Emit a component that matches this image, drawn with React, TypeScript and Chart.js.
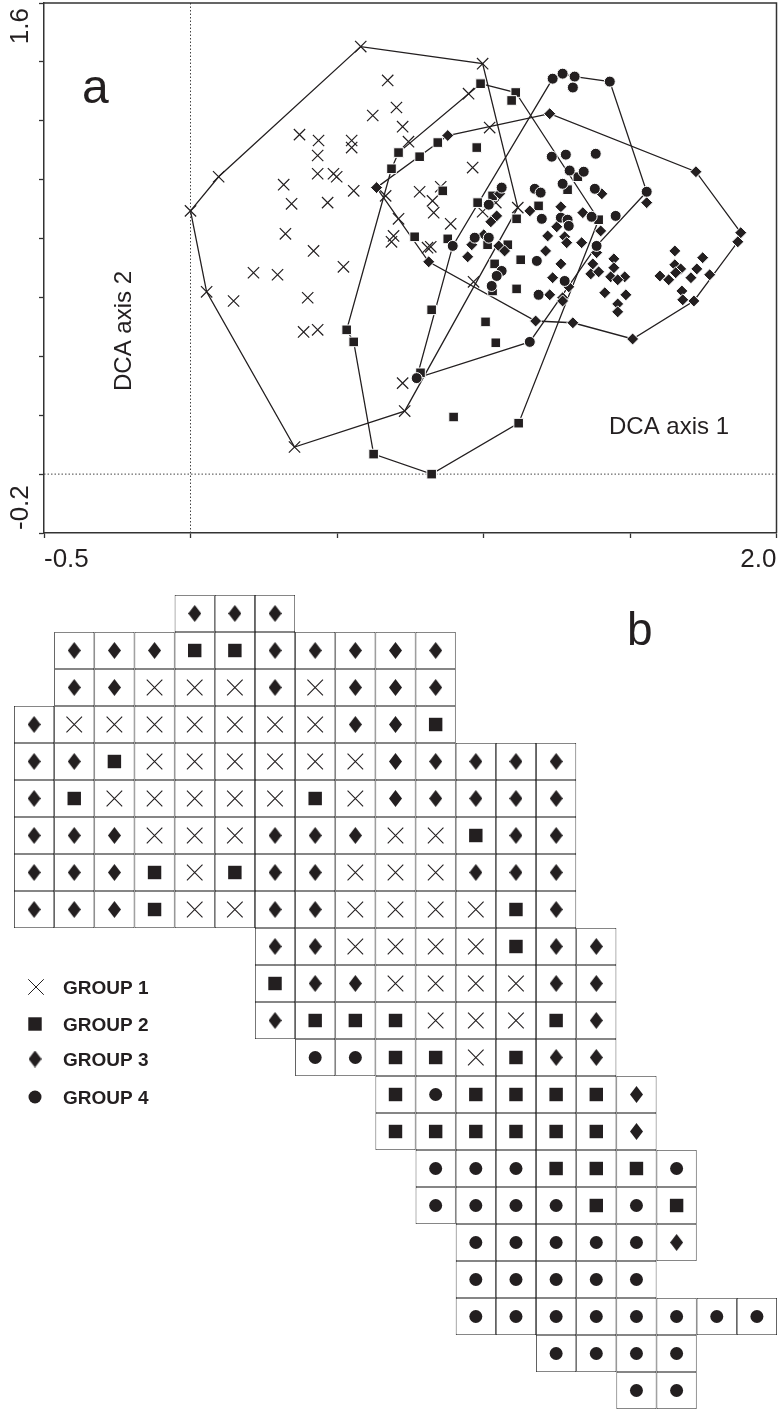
import React, { useEffect, useRef } from "react";
import { Chart, registerables } from "chart.js";
import { drawPoint } from "chart.js/helpers";

Chart.register(...registerables);

type P = [number, number];

const INK = "#231f20";
const FONT = '"Liberation Sans", Arial, sans-serif';

// Panel a: DCA ordination, hull vertices in ring order, then the interior samples
const group1Hull: P[] = [[0, 0.894], [0.096, 1.01], [0.581, 1.452], [0.997, 1.394], [1.117, 0.905], [0.731, 0.214], [0.355, 0.092], [0.055, 0.619]];
const group1Inner: P[] = [[0.673, 1.337], [0.703, 1.245], [0.622, 1.218], [0.724, 1.18], [0.744, 1.129], [0.372, 1.153], [0.437, 1.133], [0.55, 1.133], [0.55, 1.109], [0.434, 1.082], [0.434, 1.02], [0.488, 1.02], [0.499, 1.01], [0.557, 0.962], [0.318, 0.983], [0.345, 0.918], [0.468, 0.922], [0.324, 0.816], [0.666, 0.945], [0.71, 0.867], [0.693, 0.809], [0.686, 0.789], [0.782, 0.959], [0.826, 0.928], [0.83, 0.888], [0.809, 0.769], [0.854, 0.976], [0.42, 0.758], [0.522, 0.704], [0.215, 0.684], [0.297, 0.677], [0.147, 0.588], [0.4, 0.599], [0.386, 0.483], [0.434, 0.49], [0.724, 0.309], [0.949, 1.292], [1.021, 1.177], [0.963, 1.041], [0.888, 0.85], [0.997, 0.891], [0.966, 0.653], [0.82, 0.772], [1.042, 0.922]];

const group2Hull: P[] = [[0.99, 1.326], [1.11, 1.296], [1.393, 0.864], [1.12, 0.173], [0.823, 0], [0.625, 0.068], [0.557, 0.449], [0.533, 0.49], [0.686, 1.037], [0.71, 1.092]];
const group2Inner: P[] = [[1.096, 1.269], [0.844, 1.126], [0.782, 1.078], [0.977, 1.109], [0.861, 0.962], [0.98, 0.922], [1.188, 0.911], [1.113, 0.867], [0.878, 0.799], [1.127, 0.728], [1.038, 0.714], [1.031, 0.622], [1.113, 0.629], [1.014, 0.779], [1.083, 0.779], [1.031, 0.945], [1.287, 0.966], [1.322, 1.01], [0.765, 0.806], [0.898, 0.194], [1.007, 0.517], [1.042, 0.446], [0.823, 0.558], [0.785, 0.344]];

const group3Hull: P[] = [[0.635, 0.973], [0.878, 1.15], [1.226, 1.224], [1.725, 1.027], [1.878, 0.82], [1.868, 0.789], [1.718, 0.588], [1.509, 0.459], [1.305, 0.514], [1.178, 0.52], [0.813, 0.721]];
const group3Inner: P[] = [[1.055, 0.952], [1.158, 0.894], [1.264, 0.908], [1.045, 0.877], [1.025, 0.857], [1.339, 0.888], [1.219, 0.809], [1.25, 0.84], [1.277, 0.806], [1.284, 0.786], [1.335, 0.786], [1.001, 0.813], [0.96, 0.779], [0.946, 0.738], [1.052, 0.775], [1.072, 0.758], [1.212, 0.758], [1.264, 0.714], [1.236, 0.667], [1.373, 0.714], [1.366, 0.68], [1.386, 0.752], [1.226, 0.609], [1.27, 0.599], [1.291, 0.636], [1.404, 0.952], [1.557, 0.922], [1.4, 0.826], [1.445, 0.731], [1.445, 0.701], [1.393, 0.687], [1.434, 0.67], [1.482, 0.67], [1.458, 0.66], [1.414, 0.616], [1.486, 0.609], [1.458, 0.578], [1.458, 0.551], [1.27, 0.588], [1.653, 0.758], [1.653, 0.711], [1.673, 0.697], [1.656, 0.684], [1.602, 0.673], [1.632, 0.66], [1.748, 0.735], [1.728, 0.697], [1.708, 0.667], [1.772, 0.677], [1.677, 0.622], [1.68, 0.592]];

const group4Hull: P[] = [[1.236, 1.343], [0.895, 0.775], [0.772, 0.326], [1.158, 0.449], [1.386, 0.775], [1.557, 0.959], [1.431, 1.333], [1.311, 1.35], [1.27, 1.36]];
const group4Inner: P[] = [[1.305, 1.313], [1.233, 1.078], [1.281, 1.085], [1.383, 1.088], [1.294, 1.031], [1.342, 1.027], [1.27, 0.986], [1.38, 0.969], [1.062, 0.973], [1.018, 0.915], [1.175, 0.969], [1.195, 0.956], [1.199, 0.867], [1.369, 0.874], [0.97, 0.803], [1.018, 0.803], [1.182, 0.724], [1.062, 0.69], [1.045, 0.673], [1.277, 0.656], [1.188, 0.609], [1.264, 0.871], [1.287, 0.864], [1.291, 0.843], [1.451, 0.877], [1.028, 0.639]];

// Panel b: grid map, one digit per cell (the group number)
const gridRowStarts = [4, 1, 1, 0, 0, 0, 0, 0, 0, 6, 6, 6, 7, 9, 9, 10, 10, 11, 11, 11, 13, 15];
const gridRowGroups = ["333", "3332233333", "3311131333", "31111111332", "33211111133333", "32111112133333", "33311133311233", "33321233111333", "33321133111123", "331111233", "233111133", "322211123", "44221233", "2422223", "2222223", "4442224", "4444242", "444443", "44444", "44444444", "4444", "44"];

const legendLabels = ["GROUP 1", "GROUP 2", "GROUP 3", "GROUP 4"];

const toXY = (pts: P[]) => pts.map(([x, y]) => ({ x, y }));

function tallDiamond(w: number, h: number) {
  const c = document.createElement("canvas");
  c.width = w;
  c.height = h;
  const g = c.getContext("2d")!;
  g.fillStyle = INK;
  g.beginPath();
  g.moveTo(w / 2, 0);
  g.lineTo(w, h / 2);
  g.lineTo(w / 2, h);
  g.lineTo(0, h / 2);
  g.closePath();
  g.fill();
  return c;
}

function text(ctx: CanvasRenderingContext2D, s: string, x: number, y: number, font: string, align: CanvasTextAlign = "left", rot = 0) {
  ctx.save();
  ctx.translate(x, y);
  if (rot) ctx.rotate(rot);
  ctx.font = font;
  ctx.fillStyle = INK;
  ctx.textAlign = align;
  ctx.textBaseline = "alphabetic";
  ctx.fillText(s, 0, 0);
  ctx.restore();
}

function scatterConfig(): any {
  const hull = (pts: P[]) => ({
    type: "line",
    data: toXY([...pts, pts[0]]),
    borderColor: INK,
    borderWidth: 1.3,
    pointRadius: 0,
    fill: false,
    tension: 0,
    order: 10,
  });
  const marks = (label: string, pts: P[], style: string, radius: number, order: number) => ({
    label,
    data: toXY(pts),
    pointStyle: style,
    pointRadius: radius,
    pointBackgroundColor: INK,
    pointBorderColor: style === "crossRot" ? INK : "#ffffff",
    pointBorderWidth: style === "crossRot" ? 1.2 : 1,
    showLine: false,
    order,
  });
  const guide = (pts: P[]) => ({
    type: "line",
    data: toXY(pts),
    borderColor: "#444",
    borderWidth: 1,
    borderDash: [1.5, 2],
    pointRadius: 0,
    order: 11,
  });
  return {
    type: "scatter",
    data: {
      datasets: [
        guide([[0, -0.2], [0, 1.6]]),
        guide([[-0.5, 0], [2, 0]]),
        hull(group1Hull),
        hull(group2Hull),
        hull(group3Hull),
        hull(group4Hull),
        marks("GROUP 1", [...group1Hull, ...group1Inner], "crossRot", 8, 4),
        marks("GROUP 2", [...group2Hull, ...group2Inner], "rect", 6.8, 3),
        marks("GROUP 3", [...group3Hull, ...group3Inner], "rectRot", 6, 2),
        marks("GROUP 4", [...group4Hull, ...group4Inner], "circle", 5.5, 1),
      ],
    },
    options: {
      animation: false,
      responsive: false,
      devicePixelRatio: 1,
      layout: { autoPadding: false, padding: { top: 3, right: 2.5, left: 0, bottom: 0 } },
      plugins: { legend: { display: false }, tooltip: { enabled: false } },
      scales: {
        x: {
          type: "linear",
          min: -0.5,
          max: 2,
          afterFit: (s: any) => { s.height = 57; s.paddingRight = 0; s.paddingLeft = 0; },
          grid: { drawOnChartArea: false, tickLength: 5, tickColor: "#333", tickWidth: 1.3 },
          border: { color: "#333", width: 1.5 },
          ticks: {
            stepSize: 0.5,
            align: "inner",
            maxRotation: 0,
            autoSkip: false,
            padding: 6,
            color: INK,
            font: { family: FONT, size: 26 },
            callback: (v: number) => (v === -0.5 ? "-0.5" : v === 2 ? "2.0" : ""),
          },
        },
        y: {
          type: "linear",
          min: -0.2,
          max: 1.6,
          afterFit: (s: any) => { s.width = 44; },
          grid: { drawOnChartArea: false, tickLength: 5, tickColor: "#333", tickWidth: 1.3 },
          border: { color: "#333", width: 1.5 },
          ticks: { stepSize: 0.2, display: false },
        },
      },
    },
    plugins: [
      {
        id: "panelA",
        afterDraw(chart: any) {
          const { ctx, chartArea: a, scales } = chart;
          ctx.save();
          ctx.strokeStyle = "#333";
          ctx.lineWidth = 1.5;
          ctx.beginPath();
          ctx.moveTo(a.left, a.top);
          ctx.lineTo(a.right, a.top);
          ctx.lineTo(a.right, a.bottom);
          ctx.stroke();
          ctx.restore();
          const up = -Math.PI / 2;
          const tickFont = `26px ${FONT}`;
          text(ctx, "1.6", 28, scales.y.getPixelForValue(1.6) + 5, tickFont, "right", up);
          text(ctx, "-0.2", 28, scales.y.getPixelForValue(-0.2) - 3, tickFont, "left", up);
          const f = `24px ${FONT}`;
          text(ctx, "a", 82, 103, `48px ${FONT}`);
          text(ctx, "DCA axis 1", 609, 434, f);
          text(ctx, "DCA axis 2", 131, 331, f, "center", up);
        },
      },
    ],
  };
}

function gridConfig(): any {
  const diamond = tallDiamond(13, 17);
  const cells: { x: number; y: [number, number] }[] = [];
  const byGroup: Record<string, { x: number; y: number }[]> = { "1": [], "2": [], "3": [], "4": [] };
  gridRowGroups.forEach((row, r) => {
    row.split("").forEach((g, i) => {
      const c = gridRowStarts[r] + i;
      cells.push({ x: c + 0.5, y: [r, r + 1] });
      byGroup[g].push({ x: c + 0.5, y: r + 0.5 });
    });
  });
  const marks = (label: string, data: any[], style: any, radius: number, crossed = false) => ({
    label,
    data,
    pointStyle: style,
    pointRadius: radius,
    pointBackgroundColor: INK,
    pointBorderColor: INK,
    pointBorderWidth: crossed ? 1.1 : 0,
    showLine: false,
    order: 1,
    clip: false,
  });
  const legendRows = [
    { style: "crossRot", radius: 11, y: 397, x: 36 },
    { style: "rect", radius: 9.5, y: 434, x: 35 },
    { style: diamond, radius: 8, y: 469, x: 35 },
    { style: "circle", radius: 6.5, y: 507, x: 35 },
  ];
  return {
    type: "scatter",
    data: {
      datasets: [
        {
          type: "bar",
          label: "cells",
          data: cells,
          backgroundColor: "#ffffff",
          borderColor: "#2a2a2a",
          borderWidth: 0.85,
          borderSkipped: false,
          inflateAmount: 0,
          barPercentage: 1,
          categoryPercentage: 1,
          order: 5,
        },
        marks("GROUP 1", byGroup["1"], "crossRot", 11, true),
        marks("GROUP 2", byGroup["2"], "rect", 9.5),
        marks("GROUP 3", byGroup["3"], diamond, 8),
        marks("GROUP 4", byGroup["4"], "circle", 6.5),
      ],
    },
    options: {
      animation: false,
      responsive: false,
      devicePixelRatio: 1,
      layout: { autoPadding: false, padding: { left: 14, right: 2, top: 5, bottom: 0 } },
      plugins: { legend: { display: false }, tooltip: { enabled: false } },
      scales: {
        x: { type: "linear", display: false, min: 0, max: 19, offset: false, grid: { display: false } },
        y: { type: "linear", display: false, min: 0, max: 22, reverse: true, offset: false, grid: { display: false }, beginAtZero: false },
      },
    },
    plugins: [
      {
        id: "panelB",
        afterDraw(chart: any) {
          const { ctx } = chart;
          legendRows.forEach((l, i) => {
            ctx.save();
            ctx.fillStyle = INK;
            ctx.strokeStyle = INK;
            ctx.lineWidth = 1;
            drawPoint(ctx, { pointStyle: l.style, radius: l.radius, rotation: 0, borderWidth: i === 0 ? 1 : 0 } as any, l.x, l.y);
            ctx.restore();
            text(ctx, legendLabels[i], 63, l.y + 7, `bold 19px ${FONT}`);
          });
          text(ctx, "b", 627, 55, `46px ${FONT}`);
        },
      },
    ],
  };
}

export default function App() {
  const a = useRef<HTMLCanvasElement>(null);
  const b = useRef<HTMLCanvasElement>(null);
  useEffect(() => {
    document.body.style.margin = "0";
    document.body.style.background = "#fff";
    const c1 = new Chart(a.current!, scatterConfig());
    const c2 = new Chart(b.current!, gridConfig());
    return () => {
      c1.destroy();
      c2.destroy();
    };
  }, []);
  return (
    <div style={{ position: "relative", width: 779, height: 1409, background: "#fff", overflow: "hidden" }}>
      <canvas ref={a} width={779} height={590} style={{ position: "absolute", left: 0, top: 0, width: 779, height: 590 }} />
      <canvas ref={b} width={779} height={819} style={{ position: "absolute", left: 0, top: 590, width: 779, height: 819 }} />
    </div>
  );
}
